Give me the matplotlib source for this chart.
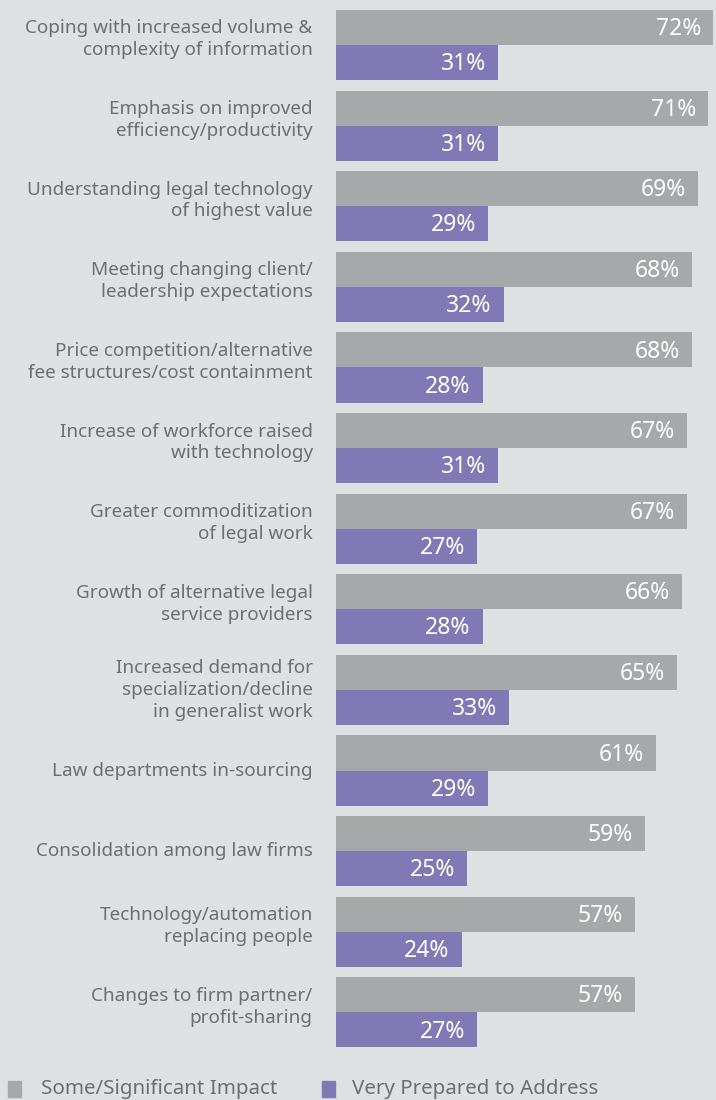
import matplotlib.pyplot as plt
import numpy as np

categories = [
    "Coping with increased volume &\ncomplexity of information",
    "Emphasis on improved\nefficiency/productivity",
    "Understanding legal technology\nof highest value",
    "Meeting changing client/\nleadership expectations",
    "Price competition/alternative\nfee structures/cost containment",
    "Increase of workforce raised\nwith technology",
    "Greater commoditization\nof legal work",
    "Growth of alternative legal\nservice providers",
    "Increased demand for\nspecialization/decline\nin generalist work",
    "Law departments in-sourcing",
    "Consolidation among law firms",
    "Technology/automation\nreplacing people",
    "Changes to firm partner/\nprofit-sharing",
]
impact = [72, 71, 69, 68, 68, 67, 67, 66, 65, 61, 59, 57, 57]
prepared = [31, 31, 29, 32, 28, 31, 27, 28, 33, 29, 25, 24, 27]
series_names = ["Some/Significant Impact", "Very Prepared to Address"]

bg = '#dfe0e2'
gray = '#a7a8aa'
purple = '#8079b6'
text_col = '#6d6e71'
font = 'Noto Sans'

fig = plt.figure(figsize=(7.16, 11), dpi=100)
fig.patch.set_facecolor(bg)
ax = fig.add_axes([0.469, 0.0364, 0.531, 0.9636])
ax.set_facecolor(bg)

y = np.arange(len(categories))
h = 0.435
ax.barh(y - h / 2, impact, height=h, color=gray)
ax.barh(y + h / 2, prepared, height=h, color=purple)

ax.set_xlim(0, 72.5)
ax.set_ylim(12.59, -0.558)
ax.axis('off')

# value labels inside bar ends
for i in range(len(categories)):
    ax.text(impact[i] - 2.3, y[i] - h / 2 + 0.02, f"{impact[i]}%", ha='right', va='center',
            color='white', fontsize=16.5, family=font)
    ax.text(prepared[i] - 2.3, y[i] + h / 2 + 0.02, f"{prepared[i]}%", ha='right', va='center',
            color='white', fontsize=16.5, family=font)

# category labels, right aligned left of the bars
for i, cat in enumerate(categories):
    off = -0.07 if cat.count('\n') == 1 else 0.0
    ax.text(-4.4, y[i] + off, cat, ha='right', va='center', color=text_col,
            fontsize=13.6, family=font, linespacing=1.27)

# legend
fig.patches.append(plt.Rectangle((8 / 716, 1 - 1097 / 1100), 13 / 716, 16 / 1100,
                                 transform=fig.transFigure, color=gray))
fig.text(41 / 716, 1 - 1089 / 1100, series_names[0], ha='left', va='center',
         color=text_col, fontsize=14.8, family=font)
fig.patches.append(plt.Rectangle((322 / 716, 1 - 1097 / 1100), 13 / 716, 16 / 1100,
                                 transform=fig.transFigure, color=purple))
fig.text(352 / 716, 1 - 1089 / 1100, series_names[1], ha='left', va='center',
         color=text_col, fontsize=14.8, family=font)

plt.savefig("out.png", dpi=100, facecolor=bg)
